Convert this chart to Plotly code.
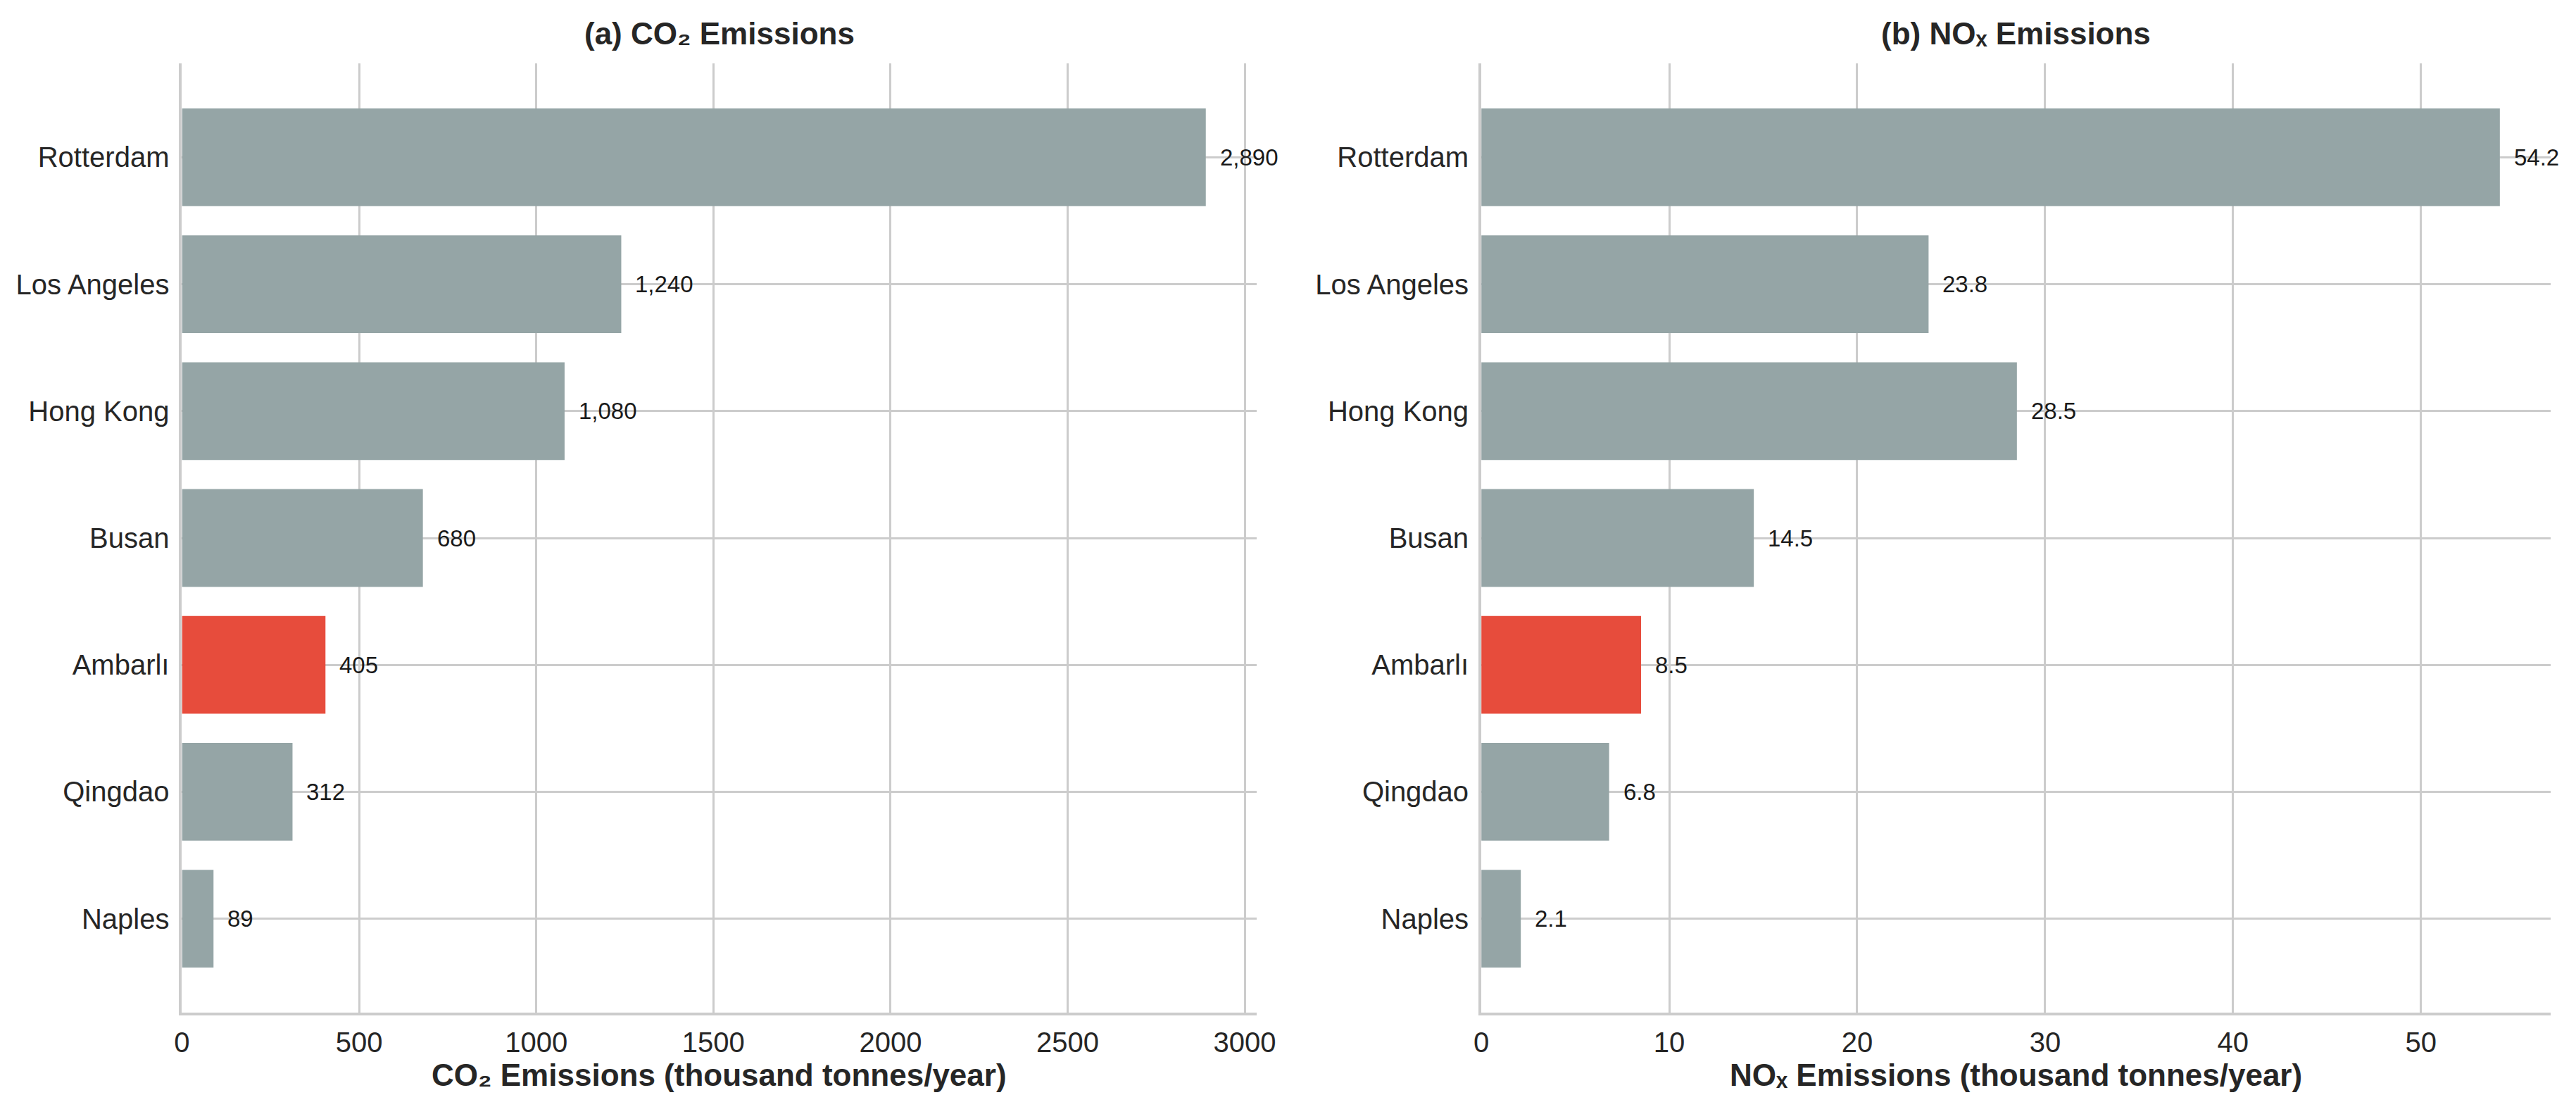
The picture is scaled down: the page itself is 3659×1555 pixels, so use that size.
import plotly.graph_objects as go

ports = ["Rotterdam", "Los Angeles", "Hong Kong", "Busan", "Ambarlı", "Qingdao", "Naples"]
co2 = [2890, 1240, 1080, 680, 405, 312, 89]
nox = [54.2, 23.8, 28.5, 14.5, 8.5, 6.8, 2.1]
highlight = "Ambarlı"
co2_ticks = [0, 500, 1000, 1500, 2000, 2500, 3000]
nox_ticks = [0, 10, 20, 30, 40, 50]

GRAY = "#95A5A6"
RED = "#E74C3C"
GRID = "#CCCCCC"
TXT = "#262626"
FONT = "Liberation Sans, Arial, sans-serif"

W, H = 3659, 1555
colors = [RED if p == highlight else GRAY for p in ports]

fig = go.Figure()
fig.add_trace(go.Bar(x=co2, y=ports, orientation="h", marker=dict(color=colors, line=dict(width=0)),
                     width=0.77, xaxis="x", yaxis="y", hoverinfo="x+y"))
fig.add_trace(go.Bar(x=nox, y=ports, orientation="h", marker=dict(color=colors, line=dict(width=0)),
                     width=0.77, xaxis="x2", yaxis="y2", hoverinfo="x+y"))

ytop = 1 - 82 / H
ybot = 1 - 1430 / H
dom1 = [242 / W, 1785 / W]
dom2 = [2107 / W, 3642 / W]

common_x = dict(showgrid=True, gridcolor=GRID, gridwidth=2.5, zeroline=False,
                showline=True, linecolor=GRID, linewidth=4, ticks="",
                tickfont=dict(family=FONT, size=40, color=TXT), ticklabelstandoff=4)
common_y = dict(showgrid=True, gridcolor=GRID, gridwidth=2.5, zeroline=False,
                showline=True, linecolor=GRID, linewidth=4, ticks="",
                tickfont=dict(family=FONT, size=40, color=TXT), ticklabelstandoff=6,
                type="category", categoryorder="array", categoryarray=ports,
                range=[len(ports) - 1 + 0.74, -0.74], domain=[ybot, ytop])

fig.update_layout(
    width=W, height=H, margin=dict(l=0, r=0, t=0, b=0),
    paper_bgcolor="white", plot_bgcolor="white", showlegend=False, bargap=0.2,
    font=dict(family=FONT, color=TXT),
    xaxis=dict(domain=dom1, range=[0, max(co2) * 1.05], tickvals=co2_ticks,
               ticktext=[str(v) for v in co2_ticks], anchor="y", **common_x),
    yaxis=dict(anchor="x", **common_y),
    xaxis2=dict(domain=dom2, range=[0, max(nox) * 1.05], tickvals=nox_ticks,
                ticktext=[str(v) for v in nox_ticks], anchor="y2", **common_x),
    yaxis2=dict(anchor="x2", **common_y),
)

ann = []
for xr, yr, vals, fmt in [("x", "y", co2, "{:,.0f}"), ("x2", "y2", nox, "{:.1f}")]:
    for p, v in zip(ports, vals):
        ann.append(dict(x=v, y=p, xref=xr, yref=yr, text=fmt.format(v), showarrow=False,
                        xanchor="left", yanchor="middle", xshift=18,
                        font=dict(family=FONT, size=33, color="#1a1a1a")))

titles = [("x domain", "<b>(a) CO₂ Emissions</b>", "<b>CO₂ Emissions (thousand tonnes/year)</b>"),
          ("x2 domain", "<b>(b) NOₓ Emissions</b>", "<b>NOₓ Emissions (thousand tonnes/year)</b>")]
for xr, t, xt in titles:
    ann.append(dict(x=0.5, y=1 - 39 / H, xref=xr, yref="paper", text=t, showarrow=False,
                    xanchor="center", yanchor="middle", font=dict(family=FONT, size=44, color=TXT)))
    ann.append(dict(x=0.5, y=1 - 1518 / H, xref=xr, yref="paper", text=xt, showarrow=False,
                    xanchor="center", yanchor="middle", font=dict(family=FONT, size=44, color=TXT)))
fig.update_layout(annotations=ann)

fig.write_html("out.html")
